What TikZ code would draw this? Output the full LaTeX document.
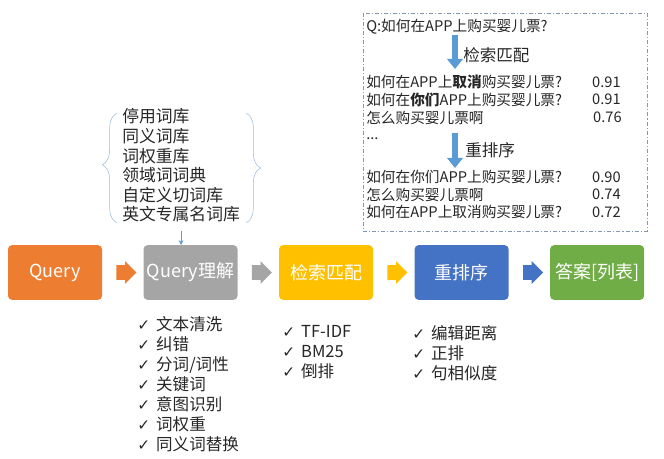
\documentclass[tikz,border=0pt]{standalone}
\usepackage{fontspec}
\setmainfont{Noto Sans CJK SC}
\newfontfamily\symfont{DejaVu Sans}
\usepackage{tikz}
\usetikzlibrary{arrows.meta,positioning,calc,decorations.pathreplacing,shapes.arrows}

\definecolor{qorange}{HTML}{ED7D31}
\definecolor{qgray}{HTML}{A5A5A5}
\definecolor{qyellow}{HTML}{FFC000}
\definecolor{qblue}{HTML}{4472C4}
\definecolor{qgreen}{HTML}{70AD47}
\definecolor{skyblue}{HTML}{5B9BD5}
\definecolor{bracecol}{HTML}{9DB9DC}
\definecolor{framecol}{HTML}{8497B0}
\definecolor{txt}{HTML}{262626}

\newcommand{\chk}{\makebox[14.2pt][l]{\symfont\fontsize{11.5}{13}\selectfont ✓}}

\begin{document}
\begin{tikzpicture}[x=0.75pt, y=-0.75pt,
  every node/.style={text=txt, inner sep=0pt},
  stage/.style={rounded corners=3pt, minimum width=70.5pt, minimum height=41pt,
    text=white, font=\fontsize{13.5}{16}\selectfont},
  flow/.style={single arrow, single arrow head extend=3pt, inner xsep=0pt,
    inner ysep=5.25pt, minimum height=15pt},
  hit/.style={anchor=west, font=\fontsize{11}{13}\selectfont},
  score/.style={anchor=east, font=\fontsize{11}{13}\selectfont},
  steplabel/.style={anchor=west, font=\fontsize{12.4}{14}\selectfont},
  checks/.style={anchor=north west, align=left, font=\fontsize{12.4}{15}\selectfont},
  down/.style={skyblue, line width=5.2pt, -{Triangle[length=7.5pt, width=11.5pt]}}]
  \useasboundingbox (0,0) rectangle (664,459);

  % Pipeline stages
  \node[stage, fill=qorange] (query) at (55,272.5) {Query};
  \node[stage, fill=qgray, right=30.75pt of query] (parse) {Query理解};
  \node[stage, fill=qyellow, right=30.75pt of parse] (match) {检索匹配};
  \node[stage, fill=qblue, right=30.75pt of match] (rerank) {重排序};
  \node[stage, fill=qgreen, right=30.75pt of rerank] (answer) {答案[列表]};

  % Block arrows between stages
  \node[flow, fill=qorange] (f1) at ($(query.east)!0.5!(parse.west)$) {};
  \node[flow, fill=qgray] (f2) at ($(parse.east)!0.5!(match.west)$) {};
  \node[flow, fill=qyellow] (f3) at ($(match.east)!0.5!(rerank.west)$) {};
  \node[flow, fill=qblue] (f4) at ($(rerank.east)!0.5!(answer.west)$) {};

  % Dictionaries feeding query understanding
  \node[anchor=north west, align=left, font=\fontsize{12.6}{14.7}\selectfont] (dicts)
    at (122,108.5) {停用词库\\同义词库\\词权重库\\领域词词典\\自定义切词库\\英文专属名词库};
  \draw[bracecol, decorate, decoration={brace, amplitude=11pt, aspect=0.53}]
    (117,223) -- (117,113);
  \draw[bracecol, decorate, decoration={brace, amplitude=11pt, aspect=0.5}]
    (246,113) -- (246,223);
  \draw[skyblue, -{Stealth[length=3.5pt, width=3.5pt]}]
    ([yshift=-6pt]dicts.south) -- (dicts.south |- parse.north);

  % Steps under each stage
  \node[checks] (parsesteps) at (137,316)
    {\chk 文本清洗\\\chk 纠错\\\chk 分词/词性\\\chk 关键词\\\chk 意图识别\\\chk 词权重\\\chk 同义词替换};
  \node[checks] (matchsteps) at (282,325)
    {\chk TF-IDF\\\chk BM25\\\chk 倒排};
  \node[checks] (reranksteps) at (412,325)
    {\chk 编辑距离\\\chk 正排\\\chk 句相似度};

  % Example panel
  \draw[framecol, dash pattern=on 3pt off 1.5pt on 0.8pt off 1.5pt] (363,13) rectangle (647,231);
  \node[hit] (ask) at (366,27) {Q:如何在APP上购买婴儿票?};
  \coordinate (d1top) at (455,35);
  \coordinate (d1bot) at (455,69);
  \draw[down] (d1top) -- (d1bot);
  \node[steplabel] (lbmatch) at (463,55) {检索匹配};
  \node[hit] (r1) at (366,82) {如何在APP上\textbf{取消}购买婴儿票?};
  \node[hit] (r2) at (366,99.5) {如何在\textbf{你们}APP上购买婴儿票?};
  \node[hit] (r3) at (366,117.5) {怎么购买婴儿票啊};
  \node[hit] (more) at (366,139) {...};
  \node[score] (s1) at (621,82) {0.91};
  \node[score] (s2) at (621,99.5) {0.91};
  \node[score] (s3) at (622,117.5) {0.76};
  \coordinate (d2top) at (455,133);
  \coordinate (d2bot) at (455,168);
  \draw[down] (d2top) -- (d2bot);
  \node[steplabel] (lbrerank) at (465,150) {重排序};
  \node[hit] (o1) at (366,177) {如何在你们APP上购买婴儿票?};
  \node[hit] (o2) at (366,194.5) {怎么购买婴儿票啊};
  \node[hit] (o3) at (366,212) {如何在APP上取消购买婴儿票?};
  \node[score] (t1) at (621,177) {0.90};
  \node[score] (t2) at (621,194.5) {0.74};
  \node[score] (t3) at (621,212) {0.72};
\end{tikzpicture}
\end{document}
